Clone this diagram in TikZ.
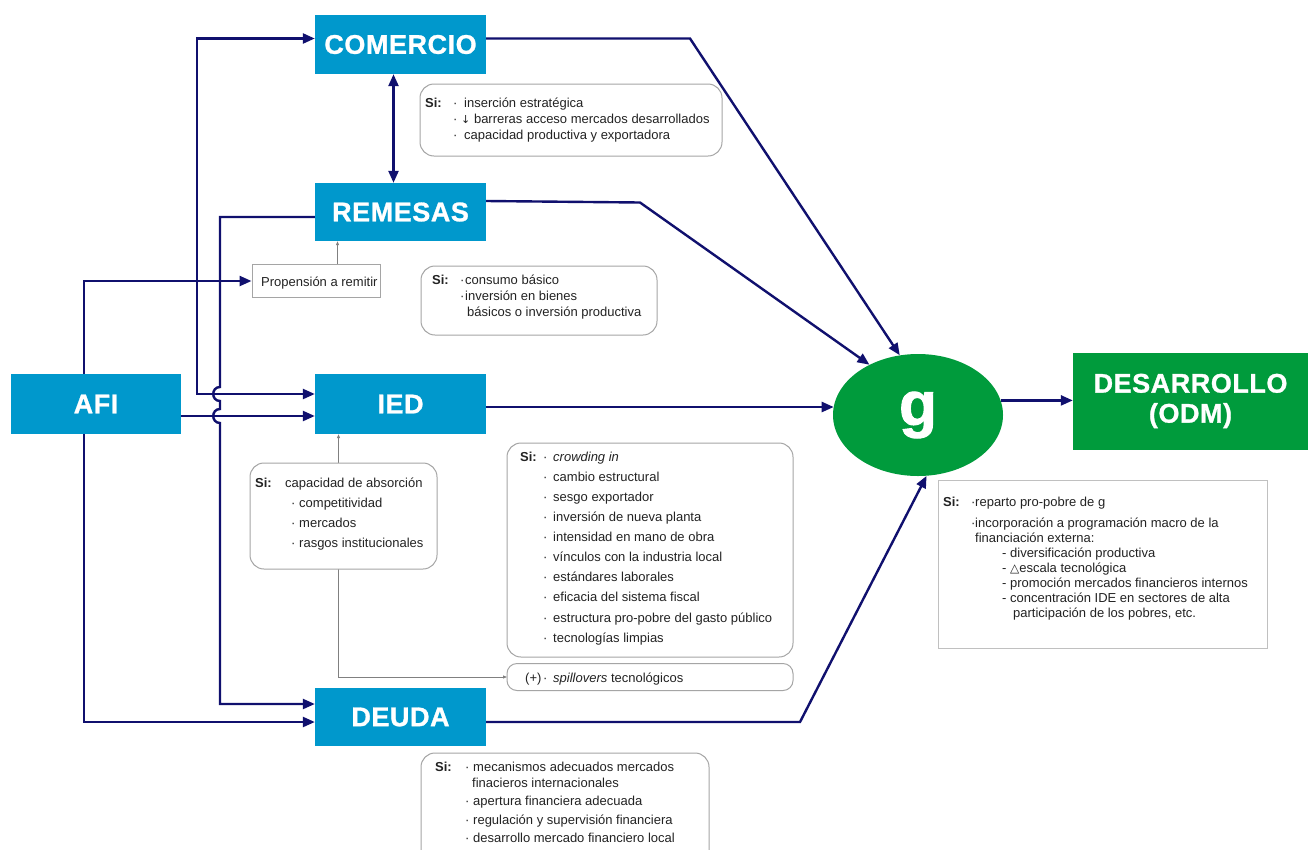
\documentclass[tikz,border=0pt]{standalone}
\usepackage{fontspec}
\setmainfont{Liberation Sans}
\newfontfamily\dejavu{DejaVu Sans}
\usetikzlibrary{arrows.meta,shapes.geometric,calc}
\definecolor{navy}{RGB}{16,16,110}
\definecolor{boxblue}{RGB}{0,152,204}
\definecolor{ggreen}{RGB}{0,155,60}
\definecolor{notegray}{RGB}{165,165,165}
\definecolor{txt}{RGB}{35,35,35}
\newcommand\sib[1]{\makebox[#1][l]{\textbf{Si:}}}
\newcommand\bu[1]{\makebox[#1][l]{·}}
\begin{document}
\begin{tikzpicture}[x=1pt,y=-1pt,
  >={Triangle[length=12pt,width=10pt]},
  bluebox/.style={fill=boxblue, text=white, inner sep=0pt,
    font=\fontsize{27}{30}\selectfont\bfseries\addfontfeature{LetterSpace=2,FakeBold=1}},
  greenshape/.style={fill=ggreen, text=white, inner sep=0pt},
  link/.style={draw=navy, line width=2.4pt},
  thinlink/.style={draw=gray, line width=0.8pt, >={Triangle[length=4pt,width=3pt]}},
  note/.style={draw=notegray, fill=white, line width=1pt, rounded corners=14pt, inner sep=0pt},
  plainnote/.style={draw=notegray!70, fill=white, line width=1pt, inner sep=0pt},
  notetext/.style={inner sep=0pt, align=left, text=txt, anchor=north west}]
\clip (0,0) rectangle (1316,849);
\fill[white] (0,0) rectangle (1316,849);

% main boxes
\node[bluebox, minimum width=171pt, minimum height=59pt] (COM) at (400.5,44.5) {COMERCIO};
\node[bluebox, minimum width=171pt, minimum height=58pt] (REM) at (400.5,212) {REMESAS};
\node[bluebox, minimum width=171pt, minimum height=60pt] (IED) at (400.5,404) {IED};
\node[bluebox, minimum width=171pt, minimum height=58pt] (DEU) at (400.5,717) {DEUDA};
\node[bluebox, minimum width=170pt, minimum height=60pt] (AFI) at (96,404) {AFI};
\node[greenshape, ellipse, minimum width=170pt, minimum height=122pt,
  font=\fontsize{62}{62}\selectfont\bfseries\addfontfeature{FakeBold=1.5}] (g) at (918,415) {g};
\node[greenshape, minimum width=235pt, minimum height=97pt, align=center,
  font=\fontsize{27}{30}\selectfont\bfseries\addfontfeature{LetterSpace=2,FakeBold=1}] (DES) at (1190.5,401) {DESARROLLO\\(ODM)};

% helper coordinates
\coordinate (X1) at (197,0);
\coordinate (X2) at (220,0);
\coordinate (COMa) at ($(COM.west)+(0,-6)$);
\coordinate (IEDa) at ($(IED.west)+(0,-10)$);
\coordinate (IEDb) at ($(IED.west)+(0,12)$);
\coordinate (REMa) at ($(REM.west)+(0,5)$);
\coordinate (DEUa) at ($(DEU.west)+(0,-13)$);
\coordinate (DEUb) at ($(DEU.west)+(0,5)$);
\coordinate (REMb) at ($(REM.south)+(-63,0)$);
\coordinate (IEDc) at ($(IED.south)+(-62,0)$);

% Propension box
\node[plainnote, draw=notegray, minimum width=128pt, minimum height=33pt] (PROP) at (316,281) {};
\node[inner sep=0pt, text=txt, font=\fontsize{13}{16}\selectfont, anchor=base west] (PROPt) at (261,286) {Propensión a remitir};

% thin grey connectors
\draw[thinlink,->] (PROP.north -| REMb) -- (REMb);
\draw[thinlink,<->] (IEDc) |- (507,677);

% navy connectors
\draw[link,<->] (COMa) -| (X1 |- IEDa) -- (IEDa);
\draw[link,->] (REMa) -| ($(X2 |- IEDa)+(0,-7)$)
   .. controls +(-9,0) and +(-9,0) .. ($(X2 |- IEDa)+(0,7)$)
   -- ($(X2 |- IEDb)+(0,-7)$)
   .. controls +(-9,0) and +(-9,0) .. ($(X2 |- IEDb)+(0,7)$)
   |- (DEUa);
\draw[link,->] (AFI.east |- IEDb) -- (IEDb);
\draw[link,->] ($(AFI.north)+(-12,0)$) |- (PROP.west);
\draw[link,->] ($(AFI.south)+(-12,0)$) |- (DEUb);
\draw[link,<->] ($(COM.south)+(-7,0)$) -- ($(REM.north)+(-7,0)$);
\draw[link,->] ($(COM.east)+(0,-6)$) -- (690,38.5) -- (g.107);
\draw[link,->] ($(REM.east)+(0,-11)$) -- (640,202.5) -- (g.134);
\draw[link,->] ($(IED.east)+(0,3)$) -- (833.7,407);
\draw[link,->] (DEUb -| DEU.east) -- (800,722) -- (g.278);
\draw[link,->] (g.10) -- (DES.west |- g.10);

% note boxes
\node[note, minimum width=302pt, minimum height=72pt] (NCOM) at (571,120) {};
\node[notetext, font=\fontsize{13}{16}\selectfont] (TCOM) at (425,95.8) {\strut\sib{28pt}\bu{11pt}inserción estratégica\\
\hspace*{28pt}\bu{8pt}{\dejavu\fontsize{11}{16}\selectfont ↓} barreras acceso mercados desarrollados\\
\hspace*{28pt}\bu{11pt}capacidad productiva y exportadora};

\node[note, minimum width=236pt, minimum height=69pt] (NREM) at (539,300.5) {};
\node[notetext, font=\fontsize{13}{16}\selectfont] (TREM) at (432,272.8) {\strut\sib{28pt}\bu{5pt}consumo básico\\
\hspace*{28pt}\bu{5pt}inversión en bienes\\
\hspace*{35pt}básicos o inversión productiva};

\node[note, minimum width=187pt, minimum height=106pt] (NABS) at (343.5,516) {};
\node[notetext, font=\fontsize{13}{20}\selectfont] (TABS) at (255,473) {\strut\sib{30pt}capacidad de absorción\\
\hspace*{36pt}\bu{8pt}competitividad\\
\hspace*{36pt}\bu{8pt}mercados\\
\hspace*{36pt}\bu{8pt}rasgos institucionales};

\node[note, minimum width=286pt, minimum height=214pt] (NCRO) at (650,550) {};
\node[notetext, font=\fontsize{13}{20.1}\selectfont] (TCRO) at (520,447) {\strut\sib{23pt}\bu{10pt}\textit{crowding in}\\
\hspace*{23pt}\bu{10pt}cambio estructural\\
\hspace*{23pt}\bu{10pt}sesgo exportador\\
\hspace*{23pt}\bu{10pt}inversión de nueva planta\\
\hspace*{23pt}\bu{10pt}intensidad en mano de obra\\
\hspace*{23pt}\bu{10pt}vínculos con la industria local\\
\hspace*{23pt}\bu{10pt}estándares laborales\\
\hspace*{23pt}\bu{10pt}eficacia del sistema fiscal\\
\hspace*{23pt}\bu{10pt}estructura pro-pobre del gasto público\\
\hspace*{23pt}\bu{10pt}tecnologías limpias};

\node[note, rounded corners=10pt, minimum width=286pt, minimum height=27pt] (SPILL) at (650,677) {};
\node[inner sep=0pt, text=txt, font=\fontsize{13}{16}\selectfont, anchor=base west] (TSPILL) at (525,682) {\makebox[18pt][l]{(+)}\bu{10pt}\textit{spillovers} tecnológicos};

\node[plainnote, minimum width=329pt, minimum height=168pt] (NG) at (1102.5,564) {};
\node[notetext, font=\fontsize{13}{15}\selectfont] (TG) at (943,495.5) {\strut\sib{28pt}\bu{4pt}reparto pro-pobre de g\\[6pt]
\hspace*{28pt}\bu{4pt}incorporación a programación macro de la\\
\hspace*{32pt}financiación externa:\\
\hspace*{59pt}- diversificación productiva\\
\hspace*{59pt}- {\dejavu\fontsize{12}{15}\selectfont △}escala tecnológica\\
\hspace*{59pt}- promoción mercados financieros internos\\
\hspace*{59pt}- concentración IDE en sectores de alta\\
\hspace*{70pt}participación de los pobres, etc.};

\node[note, minimum width=288pt, minimum height=130pt] (NDEU) at (565,818) {};
\node[notetext, font=\fontsize{13}{16}\selectfont] (TDEU) at (435,759.8) {\strut\sib{30pt}\bu{8pt}mecanismos adecuados mercados\\
\hspace*{37pt}finacieros internacionales\\[2.5pt]
\hspace*{30pt}\bu{8pt}apertura financiera adecuada\\[2.5pt]
\hspace*{30pt}\bu{8pt}regulación y supervisión financiera\\[2.5pt]
\hspace*{30pt}\bu{8pt}desarrollo mercado financiero local};
\end{tikzpicture}
\end{document}
